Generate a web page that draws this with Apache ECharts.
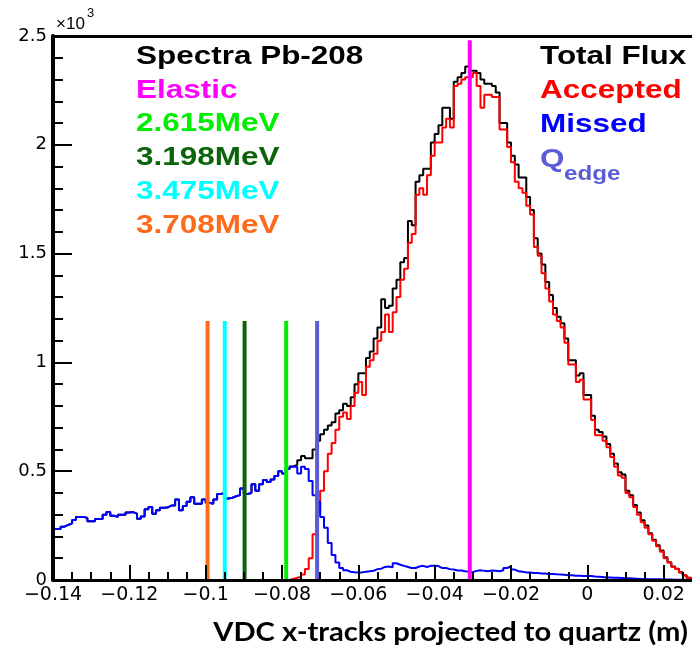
<!DOCTYPE html>
<html>
<head>
<meta charset="utf-8">
<script src="https://cdn.jsdelivr.net/npm/echarts@6/dist/echarts.min.js"></script>
<style>
  html, body { margin: 0; padding: 0; background: #fff; }
  #chart { width: 692px; height: 650px; }
</style>
</head>
<body>
<div id="chart"></div>
<script>
// Histogram binning: 0.001 m bins starting at -0.14 m
const binStart = -0.14;
const binWidth = 0.001;

// Counts per bin, all tracks
const totalFlux = [
  234, 234, 245, 253, 260, 276, 290, 290, 285, 270,
  270, 280, 280, 300, 312, 295, 290, 300, 300, 310,
  312, 305, 282, 292, 325, 336, 305, 320, 332, 333,
  342, 342, 370, 320, 340, 360, 380, 350, 350, 370,
  355, 350, 370, 395, 400, 375, 378, 385, 390, 420,
  395, 400, 440, 410, 440, 460, 450, 462, 478, 500,
  490, 510, 522, 530, 550, 570, 560, 560, 600, 640,
  670, 690, 710, 725, 765, 780, 810, 800, 840, 900,
  950, 950, 1020, 1050, 1110, 1160, 1290, 1250, 1260, 1340,
  1380, 1460, 1480, 1650, 1630, 1830, 1860, 1890, 1890, 2010,
  2050, 2090, 2170, 2170, 2120, 2290, 2310, 2330, 2360, 2340,
  2340, 2330, 2300, 2280, 2280, 2270, 2240, 2100, 2100, 2010,
  1950, 1910, 1850, 1850, 1760, 1700, 1570, 1500, 1450, 1370,
  1310, 1250, 1210, 1180, 1110, 1010, 1010, 940, 950, 850,
  850, 755, 690, 680, 660, 625, 580, 535, 495, 485,
  410, 390, 345, 310, 275, 250, 215, 185, 160, 135,
  105, 82, 62, 52, 36, 22, 10, 5
];

// Counts per bin, tracks accepted by the quartz
const accepted = [
  0, 0, 0, 0, 0, 0, 0, 0, 0, 0,
  0, 0, 0, 0, 0, 0, 0, 0, 0, 0,
  0, 0, 0, 0, 0, 0, 0, 0, 0, 0,
  0, 0, 0, 0, 0, 0, 0, 0, 0, 0,
  0, 0, 0, 0, 0, 0, 0, 0, 0, 0,
  0, 0, 0, 0, 0, 0, 0, 0, 0, 0,
  0, 0, 5, 10, 15, 25, 50, 100, 210, 310,
  410, 500, 580, 630, 690, 750, 770, 740, 800, 860,
  910, 850, 980, 1010, 1040, 1100, 1140, 1220, 1140, 1230,
  1300, 1380, 1430, 1550, 1590, 1770, 1800, 1770, 1860, 1950,
  2010, 2010, 2080, 2120, 2080, 2270, 2280, 2300, 2310, 2310,
  2330, 2270, 2170, 2230, 2230, 2220, 2220, 2070, 2070, 1990,
  1920, 1830, 1800, 1780, 1720, 1680, 1530, 1490, 1410, 1340,
  1280, 1220, 1190, 1160, 1090, 990, 990, 910, 920, 830,
  830, 735, 665, 665, 640, 610, 565, 520, 480, 470,
  400, 380, 336, 300, 265, 240, 210, 180, 155, 130,
  100, 80, 60, 50, 35, 22, 10, 5
];

// Counts per bin, tracks missing the quartz
const missed = [
  234, 234, 245, 253, 260, 276, 290, 290, 285, 270,
  270, 280, 280, 300, 312, 295, 290, 300, 300, 310,
  312, 305, 282, 292, 325, 336, 305, 320, 332, 333,
  342, 342, 370, 320, 340, 360, 380, 350, 350, 370,
  355, 350, 370, 395, 400, 375, 378, 385, 390, 420,
  395, 400, 440, 410, 440, 460, 450, 462, 478, 500,
  490, 510, 520, 520, 490, 520, 510, 455, 390, 360,
  290, 240, 170, 115, 80, 55, 45, 38, 36, 35,
  35, 38, 40, 42, 50, 52, 60, 62, 58, 77,
  70, 65, 60, 55, 55, 62, 65, 60, 65, 66,
  64, 55, 55, 50, 48, 44, 44, 40, 38, 36,
  42, 45, 42, 40, 44, 42, 40, 45, 55, 62,
  48, 40, 38, 35, 34, 32, 32, 30, 30, 28,
  28, 26, 25, 24, 22, 22, 20, 20, 18, 18,
  18, 16, 15, 14, 12, 12, 10, 10, 9, 8,
  8, 7, 6, 5, 5, 4, 4, 3, 3, 2,
  2, 2, 1, 1, 1, 0, 0, 0
];

// Marker lines: name, position (m), height (counts), colour
const markerNames = ['3.708MeV', '3.475MeV', '3.198MeV', '2.615MeV', 'Qedge', 'Elastic'];
const markerX = [-0.0995, -0.095, -0.0898, -0.0789, -0.0708, -0.0308];
const markerTop = [1190, 1190, 1190, 1190, 1190, 2480];
const markerColors = ['#ff6a1a', '#00ffff', '#0b640b', '#00ee00', '#5c5cd6', '#ff00ff'];

// Axis ticks
const xTickInterval = 0.02;
const yTicks = [0, 500, 1000, 1500, 2000, 2500];

// Step-histogram points: one point per bin lower edge, plus the closing upper edge
function histPoints(counts) {
  const pts = counts.map((c, i) => [+(binStart + i * binWidth).toFixed(4), c]);
  pts.push([+(binStart + counts.length * binWidth).toFixed(4), counts[counts.length - 1]]);
  return pts;
}

function fmtX(v) {
  const r = Math.round(v * 1000) / 1000;
  if (r === 0) return '0';
  return (r < 0 ? '\u2212' : '') + String(Math.abs(r));
}

const labelFont = '"Liberation Sans", Arial, Helvetica, sans-serif';
const tickFont = '"DejaVu Sans", sans-serif';

const histSeries = [
  { name: 'Total Flux', data: totalFlux, color: '#000000' },
  { name: 'Accepted', data: accepted, color: '#ff0000' },
  { name: 'Missed', data: missed, color: '#0000ff' }
].map(h => ({
  name: h.name,
  type: 'line',
  step: 'end',
  symbol: 'none',
  data: histPoints(h.data),
  lineStyle: { color: h.color, width: 2 },
  itemStyle: { color: h.color },
  z: 2
}));

const markerSeries = markerNames.map((n, i) => ({
  name: n,
  type: 'line',
  symbol: 'none',
  data: [[markerX[i], 0], [markerX[i], markerTop[i]]],
  lineStyle: { color: markerColors[i], width: 4 },
  itemStyle: { color: markerColors[i] },
  z: 4
}));

// Legend entries: bold Helvetica-style text, slightly widened
function legendText(text, x, y, color, size) {
  return {
    type: 'text',
    x: x, y: y,
    scaleX: 1.21,
    style: {
      text: text, x: 0, y: 0,
      fill: color,
      font: 'bold ' + (size || 26) + 'px ' + labelFont,
      textAlign: 'left', textVerticalAlign: 'middle'
    },
    z: 10
  };
}

const chart = echarts.init(document.getElementById('chart'), null, { renderer: 'canvas' });
chart.setOption({
  animation: false,
  backgroundColor: '#ffffff',
  grid: { left: 53, top: 36, width: 687, height: 544, containLabel: false, outerBoundsMode: 'none' },
  xAxis: [{
    type: 'value',
    min: -0.14,
    max: 0.04,
    interval: xTickInterval,
    z: 5,
    axisLine: { show: true, onZero: false, lineStyle: { color: '#000', width: 3 } },
    axisTick: { show: true, inside: true, length: 15, lineStyle: { color: '#000', width: 2 } },
    minorTick: { show: true, splitNumber: 4, length: 8, lineStyle: { color: '#000', width: 2 } },
    axisLabel: {
      show: true, margin: 6, color: '#000', fontSize: 19, fontFamily: tickFont,
      showMaxLabel: false, formatter: fmtX
    },
    splitLine: { show: false }
  }, {
    type: 'value',
    position: 'top',
    min: -0.14,
    max: 0.04,
    interval: xTickInterval,
    axisLine: { show: true, onZero: false, lineStyle: { color: '#000', width: 3 } },
    axisTick: { show: false },
    axisLabel: { show: false },
    splitLine: { show: false }
  }],
  yAxis: {
    type: 'value',
    min: yTicks[0],
    max: yTicks[yTicks.length - 1],
    interval: yTicks[1] - yTicks[0],
    z: 5,
    axisLine: { show: true, onZero: false, lineStyle: { color: '#000', width: 4 } },
    axisTick: { show: true, inside: true, length: 19, lineStyle: { color: '#000', width: 2 } },
    minorTick: { show: true, splitNumber: 5, length: 10, lineStyle: { color: '#000', width: 2 } },
    axisLabel: {
      show: true, margin: 6, color: '#000', fontSize: 18, fontFamily: tickFont,
      formatter: v => String(v / 1000)
    },
    splitLine: { show: false }
  },
  series: histSeries.concat(markerSeries),
  graphic: [
    { type: 'text', style: { text: '\u00d710', x: 56, y: 24, fill: '#000', font: '17px ' + labelFont, textAlign: 'left', textVerticalAlign: 'middle' } },
    { type: 'text', style: { text: '3', x: 87, y: 13, fill: '#000', font: '13px ' + labelFont, textAlign: 'left', textVerticalAlign: 'middle' } },
    legendText('Spectra Pb-208', 136, 57, '#000000'),
    legendText('Elastic', 136, 91, markerColors[5]),
    legendText('2.615MeV', 136, 124, markerColors[3]),
    legendText('3.198MeV', 136, 158, markerColors[2]),
    legendText('3.475MeV', 136, 192, markerColors[1]),
    legendText('3.708MeV', 136, 226, markerColors[0]),
    legendText('Total Flux', 540, 57, '#000000'),
    legendText('Accepted', 540, 91, '#ff0000'),
    legendText('Missed', 540, 125, '#0000ff'),
    legendText('Q', 540, 160, markerColors[4]),
    legendText('edge', 564, 174, markerColors[4], 20),
    {
      type: 'text',
      x: 688, y: 633,
      scaleX: 1.12,
      style: {
        text: 'VDC x-tracks projected to quartz (m)',
        x: 0, y: 0,
        fill: '#000',
        font: 'bold 26px Lato, "Open Sans", sans-serif',
        textAlign: 'right', textVerticalAlign: 'middle'
      }
    }
  ]
});
</script>
</body>
</html>
